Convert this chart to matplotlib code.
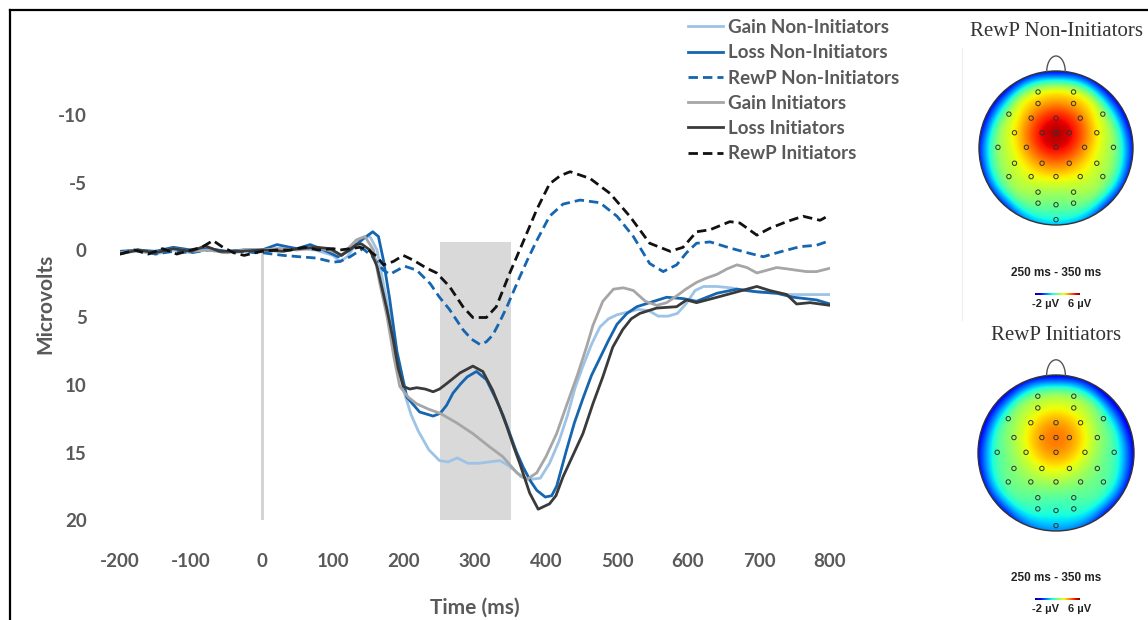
import numpy as np
import matplotlib.pyplot as plt
from matplotlib.lines import Line2D
from matplotlib.patches import Circle

W, H = 1148, 620
TXT = "#595959"

# ---- ERP waveforms (time in ms, amplitude in microvolts) ----
gain_non_t = [-200, -175, -150, -125, -100, -75, -50, -25, 0, 25, 50, 75, 100, 110, 120, 138, 152, 162, 171,
              180, 190, 200, 210, 220, 235, 250, 262, 275, 290, 305, 320, 335, 345, 355, 365, 377, 392, 405,
              418, 430, 441, 452, 464, 476, 488, 500, 515, 530, 545, 558, 572, 585, 597, 610, 622, 640, 660,
              680, 700, 720, 740, 760, 780, 800]
gain_non_v = [0.2, 0.1, 0.3, 0.0, 0.2, -0.1, 0.1, 0.0, 0.0, -0.1, -0.1, 0.0, 0.4, 0.85, 0.5, -0.85, -1.0, 0.0,
              2.5, 4.9, 8.0, 10.5, 12.2, 13.4, 14.8, 15.6, 15.7, 15.4, 15.8, 15.8, 15.7, 15.6, 15.9, 16.3,
              16.8, 17.0, 16.9, 15.8, 14.2, 12.3, 10.2, 8.6, 7.0, 5.7, 5.1, 4.8, 4.6, 4.4, 4.5, 4.9, 4.9,
              4.7, 4.0, 3.0, 2.7, 2.7, 2.8, 3.0, 3.1, 3.2, 3.3, 3.3, 3.3, 3.3]

loss_non_t = [-200, -175, -150, -125, -100, -75, -50, -25, 0, 21, 49, 68, 87, 107, 124, 143, 156, 164, 171,
              180, 190, 204, 222, 241, 251, 260, 269, 280, 289, 302, 316, 330, 340, 349, 358, 368, 378, 387,
              399, 408, 415, 429, 440, 452, 464, 476, 488, 500, 514, 528, 546, 570, 593, 612, 641, 669, 697,
              725, 748, 765, 781, 800]
loss_non_v = [0.1, 0.0, 0.1, -0.2, 0.0, -0.1, 0.1, 0.0, 0.0, -0.4, -0.1, -0.4, 0.0, 0.5, 0.0, -0.85, -1.35,
              -1.0, 0.75, 3.7, 7.5, 10.9, 12.0, 12.3, 12.1, 11.5, 10.6, 9.9, 9.4, 9.0, 9.6, 11.1, 12.3, 13.6,
              14.9, 16.1, 17.1, 17.8, 18.3, 18.2, 17.5, 14.8, 12.8, 11.0, 9.3, 8.0, 6.7, 5.5, 4.7, 4.2, 3.9,
              3.5, 3.6, 3.8, 3.2, 2.9, 3.1, 3.2, 3.5, 3.6, 3.7, 4.0]

rewp_non_t = [-200, -175, -150, -125, -100, -75, -50, -25, -10, 0, 30, 53, 77, 100, 110, 124, 142, 156, 171,
              180, 201, 218, 237, 250, 264, 283, 295, 307, 316, 325, 335, 345, 354, 363, 375, 387, 405, 424,
              448, 476, 500, 523, 546, 565, 584, 598, 612, 631, 659, 687, 706, 729, 758, 781, 800]
rewp_non_v = [0.2, 0.0, 0.3, 0.1, 0.2, 0.0, 0.2, 0.1, 0.2, 0.2, 0.4, 0.5, 0.6, 0.9, 0.85, 0.5, -0.1, 0.5, 1.5,
              1.8, 1.2, 1.5, 2.5, 3.5, 4.4, 5.9, 6.6, 7.0, 6.8, 6.3, 5.3, 4.2, 3.1, 2.0, 0.6, -0.7, -2.5,
              -3.4, -3.7, -3.5, -2.5, -1.0, 1.0, 1.6, 1.1, 0.2, -0.5, -0.6, -0.15, 0.25, 0.5, 0.15, -0.25,
              -0.35, -0.7]

gain_init_t = [-200, -175, -150, -125, -100, -75, -50, -25, 0, 25, 50, 75, 100, 112, 133, 145, 157, 166, 176,
               186, 194, 206, 218, 235, 251, 274, 297, 321, 339, 359, 373, 387, 400, 415, 429, 444, 457, 466,
               480, 495, 509, 523, 540, 556, 570, 584, 597, 612, 625, 641, 655, 669, 683, 697, 711, 725, 740,
               753, 767, 781, 800]
gain_init_v = [0.2, 0.0, 0.2, -0.1, 0.1, 0.0, 0.2, 0.0, 0.0, -0.1, 0.0, -0.2, 0.1, 0.4, -0.75, -1.0, 0.0, 2.5,
               4.9, 8.0, 10.1, 10.9, 11.4, 11.8, 12.1, 12.8, 13.6, 14.6, 15.3, 16.5, 17.0, 16.5, 15.3, 13.6,
               11.5, 9.3, 7.2, 5.6, 3.8, 2.9, 2.8, 3.0, 3.8, 4.1, 3.9, 3.4, 2.9, 2.4, 2.1, 1.8, 1.4, 1.1, 1.3,
               1.7, 1.5, 1.3, 1.4, 1.5, 1.6, 1.6, 1.35]

loss_init_t = [-200, -175, -150, -125, -100, -80, -60, -30, 0, 30, 50, 77, 96, 112, 133, 140, 152, 162, 176,
               185, 192, 199, 208, 218, 230, 241, 250, 260, 279, 297, 311, 325, 335, 345, 354, 363, 377, 389,
               405, 414, 424, 438, 452, 466, 480, 494, 508, 520, 532, 556, 584, 598, 612, 641, 669, 697, 715,
               739, 753, 772, 800]
loss_init_v = [0.3, 0.0, 0.2, -0.1, 0.1, -0.3, 0.1, 0.1, 0.0, 0.1, -0.1, -0.2, -0.1, 0.4, -0.4, -0.45, 0.0,
               1.2, 4.4, 6.7, 8.8, 10.1, 10.3, 10.2, 10.3, 10.5, 10.3, 9.9, 9.1, 8.6, 9.0, 10.4, 11.7, 13.1,
               14.5, 15.8, 18.0, 19.2, 18.8, 18.2, 16.8, 15.2, 13.6, 11.4, 9.4, 7.2, 5.9, 5.1, 4.7, 4.3, 4.2,
               3.7, 3.9, 3.5, 3.1, 2.7, 3.0, 3.3, 4.0, 3.9, 4.1]

rewp_init_t = [-200, -180, -160, -140, -120, -100, -85, -69, -55, -40, -25, -10, 0, 20, 40, 60, 80, 100, 110,
               124, 138, 150, 162, 171, 185, 199, 213, 232, 246, 264, 283, 297, 316, 330, 349, 367, 387, 405,
               420, 434, 462, 490, 518, 546, 575, 593, 612, 631, 659, 673, 697, 715, 739, 762, 786, 800]
rewp_init_v = [0.3, 0.0, 0.3, -0.1, 0.3, 0.0, -0.2, -0.7, -0.2, 0.2, 0.4, 0.2, 0.1, 0.0, 0.0, -0.2, 0.0,
               -0.1, 0.0, -0.1, -0.2, 0.0, 0.5, 1.1, 0.85, 0.4, 0.75, 1.35, 1.7, 2.7, 4.2, 5.0, 5.0, 4.2, 1.7,
               -0.5, -3.0, -4.9, -5.5, -5.8, -5.3, -4.2, -2.5, -0.5, 0.1, -0.2, -1.35, -1.5, -2.1, -2.0, -1.1,
               -1.6, -2.1, -2.5, -2.2, -2.6]

series = [
    ("Gain Non-Initiators", gain_non_t, gain_non_v, "#9DC3E6", "-"),
    ("Loss Non-Initiators", loss_non_t, loss_non_v, "#1565B0", "-"),
    ("RewP Non-Initiators", rewp_non_t, rewp_non_v, "#1565B0", "--"),
    ("Gain Initiators", gain_init_t, gain_init_v, "#A6A6A6", "-"),
    ("Loss Initiators", loss_init_t, loss_init_v, "#3A3A3A", "-"),
    ("RewP Initiators", rewp_init_t, rewp_init_v, "#111111", "--"),
]

xticks = [-200, -100, 0, 100, 200, 300, 400, 500, 600, 700, 800]
yticks = [-10, -5, 0, 5, 10, 15, 20]
window = (250, 350)

# ---- scalp maps: electrode layout (unit head) and mean RewP (uV) ----
elec_x = np.array([-0.233, 0.228, -0.233, 0.228, -0.612, 0.608, -0.323, 0.0, 0.315, -0.539, -0.181, 0.0,
                   0.172, 0.53, -0.754, -0.384, 0.0, 0.371, 0.746, -0.539, -0.181, 0.172, 0.53, -0.612,
                   -0.323, 0.0, 0.315, 0.608, -0.233, 0.228, -0.233, 0.0, 0.228, 0.0])
elec_y = np.array([0.728, 0.728, 0.578, 0.578, 0.44, 0.44, 0.388, 0.388, 0.388, 0.198, 0.198, 0.198, 0.198,
                   0.198, 0.009, 0.009, 0.009, 0.009, 0.009, -0.198, -0.198, -0.198, -0.198, -0.371,
                   -0.371, -0.371, -0.371, -0.371, -0.573, -0.573, -0.716, -0.737, -0.716, -0.931])
rewp_non_topo = np.array([2.2, 2.2, 3.4, 3.4, 1.2, 1.2, 4.6, 5.9, 5.0, 3.2, 6.3, 6.6, 6.3, 3.2, 1.5, 4.2,
                          5.8, 4.2, 1.5, 2.8, 4.5, 4.5, 2.8, 1.8, 3.2, 3.4, 3.2, 1.8, 2.2, 2.2, 1.8, 1.8,
                          1.8, 1.0])
rewp_init_topo = np.array([1.6, 1.6, 2.7, 2.7, 1.0, 0.6, 3.4, 4.5, 3.7, 2.5, 4.8, 5.0, 4.7, 2.4, 0.8, 3.0,
                           4.4, 3.2, 0.8, 2.2, 3.5, 3.5, 1.8, 1.4, 2.2, 2.5, 1.9, 1.5, 1.5, 1.5, 1.2, 1.2,
                           1.2, 0.4])


def px_box(x0, y0, x1, y1):
    return [x0 / W, 1 - y1 / H, (x1 - x0) / W, (y1 - y0) / H]


plt.rcParams["font.family"] = ["Lato", "DejaVu Sans"]
plt.rcParams["axes.unicode_minus"] = False
fig = plt.figure(figsize=(W / 100, H / 100), dpi=100)

ax = fig.add_axes(px_box(120, 88, 830, 520))
ax.fill_between(window, -0.6, 20, color="#D9D9D9", lw=0, zorder=1)
ax.plot([0, 0], [0, 20], color="#D0D0D0", lw=2, zorder=1)
for label, t, v, color, ls in series:
    kw = dict(dashes=(3.4, 1.8)) if ls == "--" else {}
    ax.plot(t, v, color=color, lw=2.0, label=label, zorder=3, **kw)

ax.set_xlim(-200, 800)
ax.set_ylim(20, -12)
ax.set_xticks(xticks)
ax.set_yticks(yticks)
for s in ax.spines.values():
    s.set_visible(False)
ax.tick_params(length=0, labelsize=13.5, labelcolor=TXT)
ax.tick_params(axis="x", pad=24)
ax.tick_params(axis="y", pad=24)
for lab in ax.get_xticklabels() + ax.get_yticklabels():
    lab.set_fontweight("bold")
ax.set_ylabel("Microvolts", fontsize=15, fontweight="bold", color=TXT, labelpad=2)
ax.set_xlabel("Time (ms)", fontsize=15, fontweight="bold", color=TXT, labelpad=20)

leg = ax.legend(loc="upper left", bbox_to_anchor=(688 / W, 1 - 19 / H), bbox_transform=fig.transFigure,
                frameon=False, fontsize=13.5, handlelength=1.85, handletextpad=0.3, labelspacing=0.44,
                borderpad=0, borderaxespad=0)
for txt in leg.get_texts():
    txt.set_color(TXT)
    txt.set_fontweight("bold")

# outer frame
fig.add_artist(Line2D([10 / W, 10 / W], [0, 1 - 10 / H], transform=fig.transFigure, color="k", lw=1.6))
fig.add_artist(Line2D([10 / W, 1], [1 - 10 / H, 1 - 10 / H], transform=fig.transFigure, color="k", lw=1.6))
fig.add_artist(Line2D([962 / W, 962 / W], [1 - 320 / H, 1 - 48 / H], transform=fig.transFigure,
                      color="#EEEEEE", lw=0.8))

g = np.linspace(-1, 1, 241)
gx, gy = np.meshgrid(g, g)
d2 = (gx[..., None] - elec_x) ** 2 + (gy[..., None] - elec_y) ** 2
wts = np.exp(-d2 / (2 * 0.21 ** 2))
rim = 2.0 * (np.clip(np.hypot(gx, gy) - 0.68, 0, None) / 0.32) ** 2 * (0.35 + 0.65 * (gy + 1) / 2) + 0.03


def topo(cx, cy, r, vals, title, ty, ly):
    a = fig.add_axes(px_box(cx - 1.05 * r, cy - 1.3 * r, cx + 1.05 * r, cy + 1.05 * r))
    a.set_xlim(-1.05, 1.05)
    a.set_ylim(-1.05, 1.3)
    a.axis("off")
    field = (wts @ vals + rim * -2.0) / (wts.sum(-1) + rim)
    im = a.imshow(field, origin="lower", extent=(-1, 1, -1, 1), cmap="jet", vmin=-2, vmax=6,
                  interpolation="bilinear")
    im.set_clip_path(Circle((0, 0), 1, transform=a.transData))
    a.add_patch(Circle((0, 0), 1, fill=False, ec="#333333", lw=1))
    th = np.linspace(0, np.pi, 40)
    a.plot(0.12 * np.cos(th), 0.995 + 0.2 * np.sin(th), color="#555555", lw=1)
    a.scatter(elec_x, elec_y, s=10, facecolors="none", edgecolors="#333333", linewidths=0.7, zorder=3)
    fig.text(cx / W, 1 - ty / H, title, family="Liberation Serif", fontsize=15, color="#333333",
             ha="center", va="center")
    fig.text(cx / W, 1 - ly / H, "250 ms - 350 ms", family="Liberation Sans", fontweight="bold",
             fontsize=8.5, color="#222222", ha="center", va="center")
    cb = fig.add_axes(px_box(1035, ly + 20, 1080, ly + 22.5))
    cb.imshow(np.linspace(0, 1, 256)[None, :], aspect="auto", cmap="jet")
    cb.axis("off")
    fig.text(1032 / W, 1 - (ly + 31) / H, "-2 \u00b5V", family="Liberation Sans", fontweight="bold",
             fontsize=8, color="#222222", ha="left", va="center")
    fig.text(1091 / W, 1 - (ly + 31) / H, "6 \u00b5V", family="Liberation Sans", fontweight="bold",
             fontsize=8, color="#222222", ha="right", va="center")


topo(1056, 148, 77, rewp_non_topo, "RewP Non-Initiators", 32, 273)
topo(1056, 453, 78, rewp_init_topo, "RewP Initiators", 335, 578)

fig.savefig("out.png", dpi=100)
